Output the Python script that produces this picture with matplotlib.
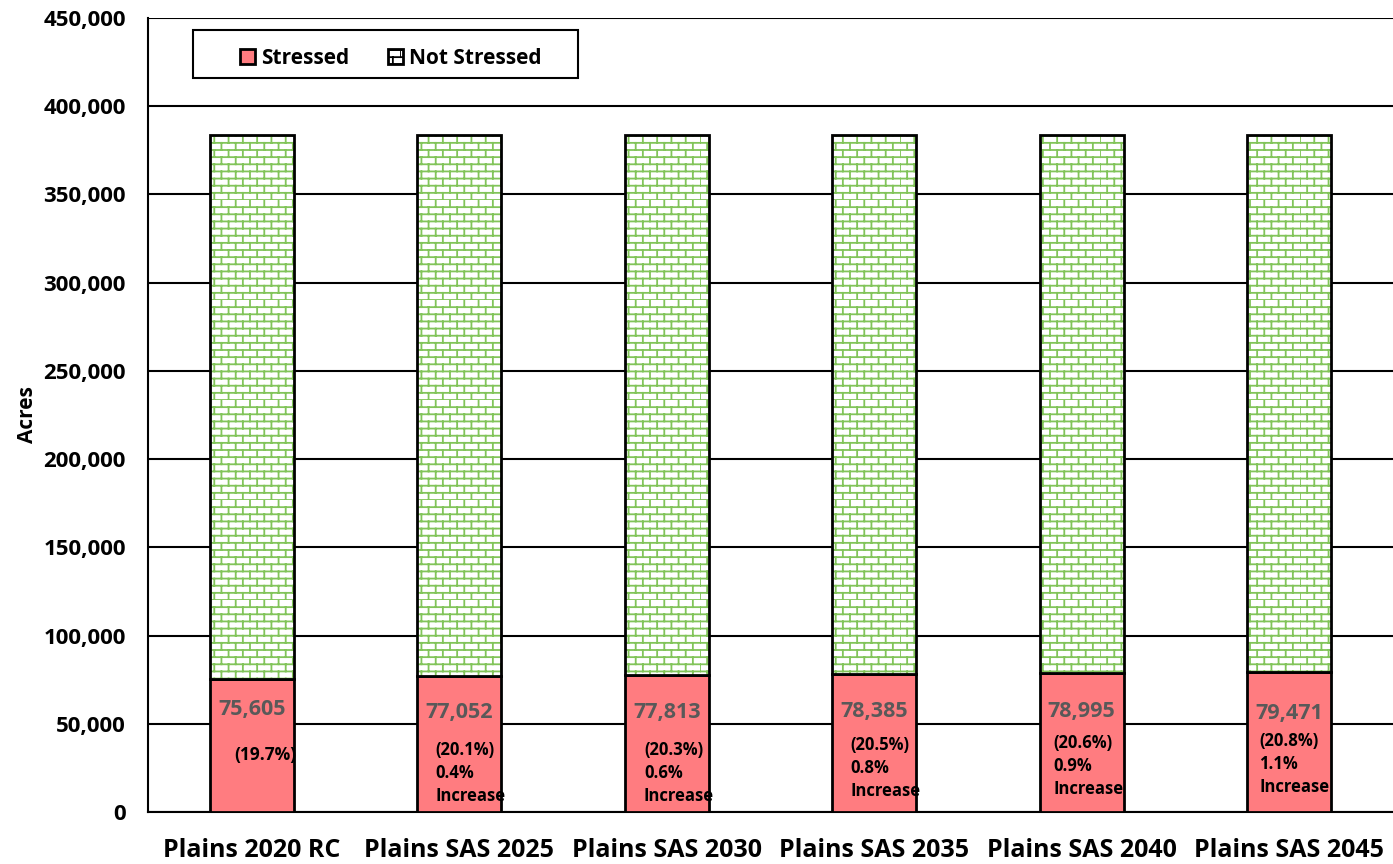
import numpy as np
import matplotlib
matplotlib.use("Agg")
import matplotlib.pyplot as plt
import matplotlib.hatch as mhatch
from matplotlib.path import Path
from matplotlib.patches import Patch, Rectangle

# ---------------- data ----------------
categories = ["Plains 2020 RC", "Plains SAS 2025", "Plains SAS 2030",
              "Plains SAS 2035", "Plains SAS 2040", "Plains SAS 2045"]
stressed = [75605, 77052, 77813, 78385, 78995, 79471]
total_acres = [383500, 383500, 383500, 383500, 383500, 383500]
not_stressed = [t - s for t, s in zip(total_acres, stressed)]
pct_labels = ["(19.7%)", "(20.1%)", "(20.3%)", "(20.5%)", "(20.6%)", "(20.8%)"]
increase_labels = ["", "0.4%", "0.6%", "0.8%", "0.9%", "1.1%"]
y_ticks = [0, 50000, 100000, 150000, 200000, 250000, 300000, 350000, 400000, 450000]

# label layout (data-space positions of the annotation text)
value_y = [58000, 56600, 56600, 57200, 57200, 56100]
pct_y = [32300, 35100, 35100, 38000, 39100, 40200]
text_dx = [0.067, -0.115, -0.11, -0.115, -0.135, -0.145]
line_step = 13000


# ---------------- custom brick hatch ----------------
class BrickHatch(mhatch.HatchPatternBase):
    def __init__(self, hatch, density):
        self.rows = 14 if hatch else 0
        self.cols = 7
        self.num_vertices = self.rows * (2 + 2 * self.cols)

    def set_vertices_and_codes(self, vertices, codes):
        h = 1.0 / self.rows
        w = 1.0 / self.cols
        i = 0
        for r in range(self.rows):
            y0 = r * h
            vertices[i] = (0.0, y0); codes[i] = Path.MOVETO; i += 1
            vertices[i] = (1.0, y0); codes[i] = Path.LINETO; i += 1
            off = 0.0 if r % 2 == 0 else w / 2
            for c in range(self.cols):
                xx = c * w + off
                vertices[i] = (xx, y0); codes[i] = Path.MOVETO; i += 1
                vertices[i] = (xx, y0 + h); codes[i] = Path.LINETO; i += 1


mhatch._hatch_types = [BrickHatch]

plt.rcParams['font.family'] = ['Open Sans', 'DejaVu Sans']
plt.rcParams['hatch.linewidth'] = 1.3

RED = '#FF7C80'
GREEN = '#82C45A'

W, H = 1393, 864
fig = plt.figure(figsize=(W / 100, H / 100), dpi=100)
ax = fig.add_axes([148 / W, 1 - 812 / H, 1 - 148 / W, (812 - 18) / H])

x = np.arange(len(categories))
width = 0.405

ax.bar(x, stressed, width, color=RED, edgecolor='black', linewidth=2, zorder=3)
ax.bar(x, not_stressed, width, bottom=stressed, color='white', edgecolor=GREEN,
       hatch='+', linewidth=0, zorder=3)
ax.bar(x, not_stressed, width, bottom=stressed, fill=False, edgecolor='black',
       linewidth=2, zorder=4)

ax.set_xlim(-0.5, len(categories) - 0.5)
ax.set_ylim(0, 450000)
ax.set_yticks(y_ticks)
ax.set_yticklabels([f"{v:,}" for v in y_ticks], fontsize=16, fontweight='bold')
ax.set_xticks(x)
ax.set_xticklabels(categories, fontsize=18, fontweight='bold')
ax.tick_params(axis='both', length=0)
ax.tick_params(axis='y', pad=16)
ax.tick_params(axis='x', pad=19)
ax.set_ylabel("Acres", fontsize=15, fontweight='bold', labelpad=4)

ax.grid(axis='y', color='black', linewidth=1.5, zorder=0)
ax.set_axisbelow(True)
for s in ['right', 'top']:
    ax.spines[s].set_visible(False)
ax.spines['left'].set_linewidth(1.5)
ax.spines['bottom'].set_linewidth(1.5)

# value labels
for i in range(len(categories)):
    ax.text(x[i], value_y[i], f"{stressed[i]:,}", ha='center', va='center',
            fontsize=15.5, fontweight='bold', color='#595959', zorder=5)
    if i == 0:
        ax.text(x[i] + text_dx[i], pct_y[i], pct_labels[i], ha='center', va='center',
                fontsize=12.5, fontweight='bold', color='black', zorder=5)
    else:
        lx = x[i] + text_dx[i]
        ax.text(lx, pct_y[i], pct_labels[i], ha='left', va='center',
                fontsize=12, fontweight='bold', color='black', zorder=5)
        ax.text(lx, pct_y[i] - line_step, increase_labels[i], ha='left', va='center',
                fontsize=12, fontweight='bold', color='black', zorder=5)
        ax.text(lx, pct_y[i] - 2 * line_step, "Increase", ha='left', va='center',
                fontsize=12, fontweight='bold', color='black', zorder=5)

# legend frame + legend
fig.patches.append(Rectangle((193 / W, 1 - 78 / H), (578 - 193) / W, 48 / H,
                             transform=fig.transFigure, facecolor='white',
                             edgecolor='black', linewidth=1.5, zorder=10))
handles = [Patch(facecolor=RED, edgecolor='black', linewidth=2, label='Stressed'),
           Patch(facecolor='white', edgecolor=GREEN, hatch='+', linewidth=2,
                 label='Not Stressed')]
leg = fig.legend(handles=handles, loc='center left',
                 bbox_to_anchor=(230 / W, 1 - 58 / H),
                 bbox_transform=fig.transFigure,
                 ncol=2, frameon=False, borderpad=0,
                 handlelength=0.72, handleheight=0.72,
                 handletextpad=0.25, columnspacing=1.9,
                 prop={'weight': 'bold', 'size': 15})
leg.set_zorder(11)
leg.legend_handles[1].set_edgecolor('black')

fig.savefig("out.png", dpi=100)
